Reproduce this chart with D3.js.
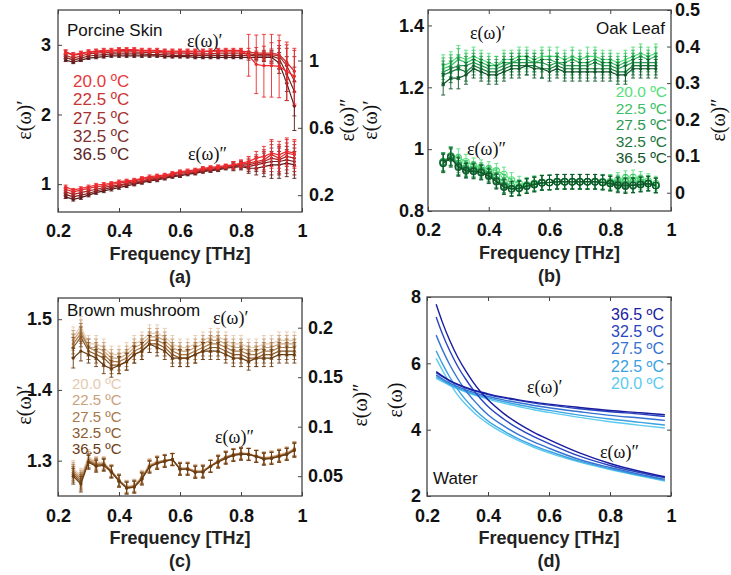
<!DOCTYPE html>
<html><head><meta charset="utf-8">
<script src="https://cdn.jsdelivr.net/npm/d3@7"></script>
<style>body{margin:0;background:#fff}svg{display:block}</style>
</head><body>
<svg id="c" width="731" height="575"></svg>
<script>
// ---------- DATA ----------
const temps = ["20.0 ºC","22.5 ºC","27.5 ºC","32.5 ºC","36.5 ºC"];
const xTicks = [0.2,0.4,0.6,0.8,1];

// (a) Porcine skin
const freqA = [0.225,0.25,0.275,0.3,0.325,0.35,0.375,0.4,0.425,0.45,0.475,0.5,0.525,0.55,0.575,0.6,0.625,0.65,0.675,0.7,0.725,0.75,0.775,0.8,0.825,0.85,0.875,0.9,0.925,0.95,0.975];
const skinReal20 = [2.90,2.86,2.88,2.90,2.91,2.92,2.92,2.93,2.93,2.93,2.92,2.92,2.92,2.91,2.91,2.91,2.91,2.91,2.91,2.91,2.92,2.92,2.92,2.92,2.85,2.72,2.70,2.70,2.69,2.62,2.55];
const skinReal22 = [2.89,2.85,2.87,2.89,2.90,2.91,2.91,2.92,2.92,2.92,2.91,2.91,2.91,2.90,2.90,2.90,2.90,2.90,2.90,2.91,2.91,2.91,2.91,2.91,2.90,2.88,2.88,2.88,2.86,2.75,2.62];
const skinReal27 = [2.85,2.81,2.84,2.87,2.88,2.89,2.89,2.90,2.90,2.90,2.89,2.89,2.89,2.88,2.88,2.88,2.88,2.87,2.87,2.87,2.88,2.88,2.88,2.88,2.87,2.86,2.86,2.86,2.84,2.70,2.48];
const skinReal32 = [2.82,2.78,2.81,2.84,2.85,2.86,2.87,2.87,2.87,2.87,2.87,2.86,2.86,2.86,2.85,2.85,2.85,2.85,2.85,2.85,2.85,2.85,2.85,2.85,2.85,2.84,2.84,2.84,2.80,2.58,2.33];
const skinReal36 = [2.78,2.75,2.78,2.81,2.82,2.83,2.84,2.84,2.84,2.84,2.84,2.84,2.84,2.83,2.83,2.83,2.83,2.82,2.82,2.82,2.82,2.82,2.82,2.82,2.82,2.82,2.82,2.82,2.74,2.45,2.12];
const skinRealErr20 = [0.03,0.03,0.03,0.03,0.03,0.03,0.03,0.03,0.03,0.03,0.03,0.03,0.03,0.03,0.03,0.03,0.03,0.03,0.03,0.03,0.03,0.03,0.03,0.03,0.30,0.42,0.45,0.45,0.45,0.42,0.40];
const skinRealErr22 = [0.03,0.03,0.03,0.03,0.03,0.03,0.03,0.03,0.03,0.03,0.03,0.03,0.03,0.03,0.03,0.03,0.03,0.03,0.03,0.03,0.03,0.03,0.03,0.03,0.05,0.08,0.10,0.15,0.20,0.25,0.30];
const skinRealErrOther = [0.02,0.02,0.02,0.02,0.02,0.02,0.02,0.02,0.02,0.02,0.02,0.02,0.02,0.02,0.02,0.02,0.02,0.02,0.02,0.02,0.02,0.02,0.02,0.02,0.04,0.05,0.06,0.08,0.15,0.25,0.35];
const skinImag20 = [0.25,0.23,0.24,0.25,0.26,0.265,0.27,0.28,0.285,0.29,0.30,0.31,0.315,0.32,0.33,0.34,0.345,0.35,0.36,0.365,0.37,0.375,0.38,0.39,0.40,0.42,0.43,0.45,0.44,0.46,0.45];
const skinImag22 = [0.235,0.22,0.23,0.24,0.25,0.255,0.265,0.27,0.28,0.285,0.295,0.30,0.31,0.315,0.325,0.335,0.34,0.345,0.355,0.36,0.365,0.37,0.38,0.385,0.39,0.40,0.41,0.44,0.42,0.45,0.44];
const skinImag27 = [0.22,0.205,0.215,0.225,0.235,0.245,0.255,0.26,0.27,0.28,0.285,0.295,0.30,0.31,0.32,0.33,0.335,0.34,0.35,0.355,0.36,0.37,0.375,0.38,0.38,0.39,0.40,0.42,0.41,0.43,0.42];
const skinImag32 = [0.205,0.19,0.20,0.21,0.225,0.235,0.245,0.255,0.265,0.27,0.28,0.29,0.295,0.305,0.315,0.32,0.33,0.335,0.345,0.35,0.355,0.365,0.37,0.375,0.37,0.38,0.39,0.40,0.40,0.41,0.40];
const skinImag36 = [0.19,0.175,0.185,0.20,0.215,0.225,0.235,0.245,0.255,0.265,0.275,0.285,0.29,0.30,0.31,0.315,0.325,0.33,0.34,0.345,0.35,0.36,0.365,0.37,0.36,0.36,0.37,0.38,0.38,0.39,0.38];
const skinImagErr = [0.01,0.01,0.01,0.01,0.01,0.01,0.01,0.01,0.01,0.01,0.01,0.01,0.01,0.01,0.01,0.01,0.01,0.01,0.01,0.01,0.01,0.01,0.02,0.02,0.03,0.04,0.06,0.08,0.08,0.08,0.08];

// (b) Oak leaf
const freqB = [0.25,0.275,0.3,0.325,0.35,0.375,0.4,0.425,0.45,0.475,0.5,0.525,0.55,0.575,0.6,0.625,0.65,0.675,0.7,0.725,0.75,0.775,0.8,0.825,0.85,0.875,0.9,0.925,0.95];
const leafReal20 = [1.27,1.28,1.30,1.29,1.30,1.29,1.28,1.27,1.29,1.29,1.30,1.30,1.29,1.30,1.30,1.30,1.29,1.30,1.29,1.30,1.30,1.29,1.29,1.28,1.29,1.30,1.31,1.30,1.31];
const leafReal22 = [1.26,1.27,1.29,1.28,1.29,1.28,1.27,1.27,1.28,1.28,1.29,1.29,1.28,1.29,1.29,1.28,1.28,1.29,1.28,1.28,1.29,1.28,1.28,1.27,1.28,1.29,1.30,1.29,1.30];
const leafReal27 = [1.25,1.26,1.27,1.27,1.28,1.27,1.26,1.26,1.27,1.28,1.28,1.28,1.28,1.28,1.27,1.28,1.27,1.27,1.27,1.27,1.28,1.27,1.27,1.26,1.27,1.28,1.28,1.28,1.28];
const leafReal32 = [1.24,1.25,1.26,1.25,1.27,1.26,1.25,1.25,1.26,1.27,1.27,1.27,1.27,1.26,1.26,1.27,1.26,1.26,1.26,1.26,1.26,1.26,1.26,1.25,1.25,1.27,1.27,1.27,1.27];
const leafReal36 = [1.21,1.23,1.23,1.24,1.26,1.25,1.24,1.24,1.25,1.26,1.26,1.27,1.26,1.26,1.25,1.26,1.25,1.25,1.25,1.25,1.25,1.25,1.25,1.24,1.24,1.26,1.26,1.26,1.26];
const leafRealErr = [0.035,0.035,0.035,0.03,0.03,0.03,0.03,0.03,0.03,0.03,0.03,0.03,0.03,0.03,0.03,0.03,0.03,0.03,0.03,0.03,0.03,0.03,0.03,0.03,0.03,0.03,0.03,0.03,0.03];
const leafImag20 = [0.085,0.10,0.095,0.085,0.075,0.07,0.065,0.06,0.05,0.035,0.025,0.022,0.026,0.028,0.028,0.03,0.03,0.03,0.03,0.03,0.03,0.03,0.03,0.035,0.04,0.042,0.038,0.032,0.025];
const leafImag22 = [0.085,0.10,0.08,0.068,0.065,0.062,0.055,0.045,0.03,0.018,0.015,0.02,0.025,0.028,0.028,0.03,0.03,0.03,0.03,0.03,0.03,0.03,0.028,0.028,0.03,0.03,0.028,0.026,0.02];
const leafImag27 = [0.084,0.10,0.075,0.064,0.062,0.058,0.05,0.035,0.02,0.012,0.013,0.019,0.024,0.027,0.028,0.03,0.03,0.03,0.03,0.03,0.03,0.028,0.026,0.024,0.022,0.021,0.024,0.025,0.02];
const leafImag32 = [0.082,0.098,0.072,0.062,0.06,0.056,0.047,0.032,0.017,0.011,0.012,0.018,0.023,0.027,0.028,0.03,0.03,0.03,0.03,0.03,0.03,0.028,0.025,0.022,0.02,0.02,0.023,0.025,0.02];
const leafImag36 = [0.08,0.095,0.07,0.06,0.058,0.055,0.045,0.03,0.015,0.01,0.012,0.018,0.022,0.027,0.028,0.03,0.03,0.03,0.03,0.03,0.03,0.028,0.025,0.02,0.018,0.02,0.022,0.025,0.02];
const leafImagErr = [0.025,0.025,0.025,0.02,0.02,0.02,0.02,0.02,0.02,0.02,0.02,0.02,0.02,0.02,0.02,0.02,0.02,0.02,0.02,0.02,0.02,0.02,0.02,0.02,0.02,0.02,0.02,0.02,0.02];

// (c) Brown mushroom
const freqC = [0.25,0.275,0.3,0.325,0.35,0.375,0.4,0.425,0.45,0.475,0.5,0.525,0.55,0.575,0.6,0.625,0.65,0.675,0.7,0.725,0.75,0.775,0.8,0.825,0.85,0.875,0.9,0.925,0.95,0.975];
const mushReal20 = [1.475,1.49,1.465,1.465,1.46,1.45,1.45,1.455,1.465,1.47,1.48,1.48,1.475,1.465,1.46,1.46,1.465,1.47,1.475,1.475,1.47,1.465,1.465,1.46,1.46,1.465,1.465,1.47,1.47,1.47];
const mushReal22 = [1.47,1.485,1.46,1.46,1.455,1.445,1.445,1.45,1.46,1.465,1.475,1.475,1.47,1.46,1.455,1.455,1.46,1.465,1.47,1.47,1.465,1.46,1.46,1.455,1.455,1.46,1.46,1.465,1.465,1.465];
const mushReal27 = [1.465,1.48,1.46,1.455,1.45,1.44,1.44,1.445,1.455,1.46,1.47,1.47,1.465,1.455,1.45,1.45,1.455,1.46,1.465,1.465,1.46,1.455,1.455,1.45,1.45,1.455,1.455,1.46,1.46,1.46];
const mushReal32 = [1.46,1.475,1.455,1.45,1.445,1.435,1.435,1.44,1.45,1.455,1.465,1.465,1.46,1.45,1.445,1.445,1.45,1.455,1.46,1.46,1.455,1.45,1.45,1.445,1.445,1.45,1.45,1.455,1.455,1.455];
const mushReal36 = [1.445,1.455,1.45,1.445,1.435,1.43,1.435,1.44,1.45,1.455,1.465,1.46,1.455,1.445,1.445,1.445,1.45,1.455,1.455,1.455,1.45,1.445,1.445,1.44,1.445,1.445,1.445,1.45,1.45,1.45];
const mushRealErr = [0.014,0.014,0.012,0.012,0.012,0.012,0.012,0.012,0.012,0.012,0.012,0.012,0.012,0.012,0.012,0.012,0.012,0.012,0.012,0.012,0.012,0.012,0.012,0.012,0.012,0.012,0.012,0.012,0.012,0.012];
const mushImag20 = [0.058,0.05,0.07,0.064,0.064,0.056,0.046,0.04,0.041,0.05,0.062,0.065,0.066,0.066,0.058,0.058,0.056,0.056,0.061,0.066,0.07,0.072,0.074,0.073,0.071,0.069,0.07,0.072,0.074,0.078];
const mushImag22 = [0.056,0.048,0.068,0.063,0.063,0.055,0.046,0.039,0.04,0.049,0.061,0.064,0.066,0.067,0.058,0.058,0.055,0.055,0.06,0.065,0.069,0.072,0.073,0.072,0.07,0.068,0.069,0.071,0.073,0.078];
const mushImag27 = [0.054,0.046,0.066,0.062,0.062,0.055,0.046,0.039,0.04,0.048,0.06,0.064,0.066,0.067,0.058,0.058,0.055,0.055,0.06,0.065,0.069,0.072,0.073,0.072,0.07,0.068,0.069,0.071,0.073,0.077];
const mushImag32 = [0.052,0.044,0.065,0.061,0.062,0.055,0.045,0.038,0.039,0.048,0.06,0.063,0.065,0.067,0.057,0.057,0.054,0.055,0.06,0.065,0.069,0.071,0.073,0.072,0.07,0.068,0.068,0.07,0.072,0.077];
const mushImag36 = [0.05,0.042,0.064,0.06,0.061,0.054,0.045,0.038,0.039,0.047,0.059,0.063,0.065,0.067,0.057,0.057,0.054,0.054,0.06,0.064,0.068,0.071,0.072,0.072,0.07,0.067,0.068,0.07,0.072,0.076];
const mushImagErr = [0.008,0.008,0.007,0.006,0.006,0.006,0.006,0.006,0.006,0.006,0.006,0.006,0.006,0.006,0.006,0.006,0.006,0.006,0.006,0.006,0.006,0.006,0.006,0.006,0.006,0.006,0.006,0.006,0.006,0.007];

// (d) Water
const freqD = [0.23,0.25,0.275,0.3,0.325,0.35,0.375,0.4,0.45,0.5,0.55,0.6,0.7,0.8,0.9,0.98];
const waterReal20 = [5.55,5.45,5.33,5.23,5.14,5.06,4.99,4.92,4.80,4.70,4.60,4.52,4.37,4.24,4.13,4.05];
const waterReal22 = [5.60,5.49,5.36,5.26,5.17,5.09,5.02,4.96,4.85,4.75,4.66,4.58,4.44,4.32,4.22,4.14];
const waterReal27 = [5.65,5.53,5.40,5.30,5.21,5.13,5.06,5.00,4.90,4.81,4.73,4.66,4.54,4.43,4.35,4.28];
const waterReal32 = [5.72,5.60,5.46,5.35,5.26,5.18,5.12,5.06,4.96,4.88,4.80,4.74,4.63,4.54,4.47,4.40];
const waterReal36 = [5.75,5.62,5.48,5.37,5.28,5.20,5.14,5.08,4.98,4.90,4.83,4.77,4.67,4.58,4.51,4.45];
const waterImag20 = [6.15,5.80,5.40,5.05,4.78,4.55,4.35,4.18,3.90,3.67,3.47,3.30,3.02,2.80,2.60,2.45];
const waterImag22 = [6.38,6.00,5.58,5.22,4.92,4.67,4.45,4.26,3.97,3.72,3.52,3.35,3.05,2.82,2.62,2.47];
const waterImag27 = [6.85,6.42,5.95,5.55,5.20,4.92,4.67,4.45,4.12,3.85,3.63,3.44,3.10,2.86,2.65,2.50];
const waterImag32 = [7.40,6.90,6.37,5.92,5.55,5.22,4.94,4.70,4.33,4.03,3.79,3.58,3.20,2.92,2.70,2.55];
const waterImag36 = [7.78,7.25,6.68,6.20,5.80,5.45,5.15,4.90,4.50,4.18,3.92,3.70,3.30,2.98,2.74,2.58];

// ---------- DRAWING ----------
const svg = d3.select("#c");
const SANS = "'Liberation Sans', Arial, Helvetica, sans-serif";
const SERIF = "'Liberation Serif', 'DejaVu Serif', serif";
const fmt = d3.format("~g");

function styleAxis(sel) {
  sel.select(".domain").remove();
  sel.selectAll("line").attr("stroke", "#444").attr("stroke-width", 1);
  sel.selectAll("text").attr("font-family", SANS).attr("font-weight", "bold")
     .attr("font-size", 18).attr("fill", "#111");
}

function makePanel(p) {
  const g = svg.append("g");
  const x = d3.scaleLinear().domain([0.2, 1]).range([p.x0, p.x1]);
  const yL = d3.scaleLinear().domain(p.yL).range([p.y1, p.y0]);
  const yR = p.yR ? d3.scaleLinear().domain(p.yR).range([p.y1, p.y0]) : null;
  g.append("g").attr("transform", `translate(0,${p.y1})`)
    .call(d3.axisBottom(x).tickValues(xTicks).tickFormat(fmt).tickSize(-4).tickPadding(p.padX)).call(styleAxis);
  g.append("g").attr("transform", `translate(0,${p.y0})`)
    .call(d3.axisTop(x).tickValues(xTicks).tickFormat("").tickSize(-4)).call(styleAxis);
  g.append("g").attr("transform", `translate(${p.x0},0)`)
    .call(d3.axisLeft(yL).tickValues(p.ticksL).tickFormat(fmt).tickSize(-4).tickPadding(p.padL)).call(styleAxis);
  if (yR) {
    g.append("g").attr("transform", `translate(${p.x1},0)`)
      .call(d3.axisRight(yR).tickValues(p.ticksR).tickFormat(fmt).tickSize(-4).tickPadding(p.padR)).call(styleAxis);
  } else {
    g.append("g").attr("transform", `translate(${p.x1},0)`)
      .call(d3.axisRight(yL).tickValues(p.ticksL).tickFormat("").tickSize(-4)).call(styleAxis);
  }
  g.append("rect").attr("x", p.x0).attr("y", p.y0).attr("width", p.x1 - p.x0).attr("height", p.y1 - p.y0)
    .attr("fill", "none").attr("stroke", "#444").attr("stroke-width", 1.3);
  const data = g.append("g");
  const cx = (p.x0 + p.x1) / 2;
  g.append("text").attr("x", cx).attr("y", p.y1 + 48).attr("text-anchor", "middle")
    .attr("font-family", SANS).attr("font-weight", "bold").attr("font-size", 18).attr("fill", "#222")
    .text("Frequency [THz]");
  g.append("text").attr("x", cx).attr("y", p.y1 + 71).attr("text-anchor", "middle")
    .attr("font-family", SANS).attr("font-weight", "bold").attr("font-size", 18).attr("fill", "#222")
    .text(p.letter);
  const rot = (tx, ty, t) => g.append("text").attr("transform", `translate(${tx},${ty}) rotate(-90)`)
    .attr("text-anchor", "middle").attr("dy", "0.35em").attr("font-family", SERIF).attr("font-size", 20)
    .attr("fill", "#111").text(t);
  rot(p.labL[0], p.labL[1], p.labL[2]);
  if (p.labR) rot(p.labR[0], p.labR[1], p.labR[2]);
  return {g, data, x, yL, yR};
}

function series(P, y, freq, vals, errs, color, opt) {
  const pts = freq.map((f, i) => ({f, v: vals[i], e: errs ? errs[i] : 0}));
  const sg = P.data.append("g");
  if (errs) {
    sg.selectAll(".eb").data(pts).join("path")
      .attr("d", d => {
        const xx = P.x(d.f), a = y(d.v - d.e), b = y(d.v + d.e), c = opt.cap || 2;
        return `M${xx},${a}V${b}M${xx - c},${a}H${xx + c}M${xx - c},${b}H${xx + c}`;
      })
      .attr("stroke", color).attr("stroke-width", 0.9).attr("fill", "none");
  }
  const line = d3.line().x(d => P.x(d.f)).y(d => y(d.v));
  if (opt.curve) line.curve(opt.curve);
  sg.append("path").datum(pts).attr("d", line).attr("fill", "none")
    .attr("stroke", color).attr("stroke-width", opt.lw || 1.2);
  if (opt.marker === "dot") {
    sg.selectAll(".m").data(pts).join("circle").attr("cx", d => P.x(d.f)).attr("cy", d => y(d.v))
      .attr("r", 1.6).attr("fill", color);
  } else if (opt.marker === "circle") {
    sg.selectAll(".m").data(pts).join("circle").attr("cx", d => P.x(d.f)).attr("cy", d => y(d.v))
      .attr("r", 3.2).attr("fill", "none").attr("stroke", color).attr("stroke-width", 1.1);
  }
}

function textAt(g, x, y, t, color, size, anchor, font) {
  g.append("text").attr("x", x).attr("y", y).attr("text-anchor", anchor || "start")
    .attr("font-family", font || SANS).attr("font-size", size).attr("fill", color).text(t);
}

const EPS1 = "ε(ω)′", EPS2 = "ε(ω)″";

// ---- (a) ----
const redCols = ["#ee2a2e", "#d22a2c", "#a82626", "#7f2020", "#581a1a"];
const redText = ["#e8383d", "#cc3333", "#a53030", "#803030", "#5c2424"];
const PA = makePanel({x0: 58, x1: 302, y0: 10, y1: 212, yL: [0.6, 3.5], ticksL: [1, 2, 3], yR: [0.1, 1.3], ticksR: [0.2, 0.6, 1],
  padX: 12, padL: 7, padR: 7, letter: "(a)", labL: [24, 120, EPS1], labR: [347, 120, EPS2]});
const aReal = [skinReal20, skinReal22, skinReal27, skinReal32, skinReal36];
const aRealErr = [skinRealErr20, skinRealErr22, skinRealErrOther, skinRealErrOther, skinRealErrOther];
const aImag = [skinImag20, skinImag22, skinImag27, skinImag32, skinImag36];
for (let i = 4; i >= 0; i--) {
  series(PA, PA.yL, freqA, aReal[i], aRealErr[i], redCols[i], {marker: "dot"});
  series(PA, PA.yR, freqA, aImag[i], skinImagErr, redCols[i], {marker: "dot"});
}
textAt(PA.g, 67, 36, "Porcine Skin", "#111", 17);
textAt(PA.g, 187, 47, EPS1, "#111", 18, "start", SERIF);
textAt(PA.g, 188, 160, EPS2, "#111", 18, "start", SERIF);
temps.forEach((t, i) => textAt(PA.g, 73, 87 + i * 18.3, t, redText[i], 17));

// ---- (b) ----
const greenCols = ["#55e07a", "#3bbf66", "#2a9a52", "#1c773d", "#12552a"];
const PB = makePanel({x0: 428, x1: 671, y0: 10, y1: 211, yL: [0.8, 1.45], ticksL: [0.8, 1, 1.2, 1.4], yR: [-0.05, 0.5], ticksR: [0, 0.1, 0.2, 0.3, 0.4, 0.5],
  padX: 12, padL: 4, padR: 4, letter: "(b)", labL: [370, 120, EPS1], labR: [718, 120, EPS2]});
const bReal = [leafReal20, leafReal22, leafReal27, leafReal32, leafReal36];
const bImag = [leafImag20, leafImag22, leafImag27, leafImag32, leafImag36];
for (let i = 0; i < 5; i++) {
  series(PB, PB.yL, freqB, bReal[i], leafRealErr, greenCols[i], {marker: "dot"});
  series(PB, PB.yR, freqB, bImag[i], leafImagErr, greenCols[i], {marker: "circle"});
}
textAt(PB.g, 665, 34, "Oak Leaf", "#111", 17, "end");
textAt(PB.g, 470, 39, EPS1, "#111", 18, "start", SERIF);
textAt(PB.g, 467, 155, EPS2, "#111", 18, "start", SERIF);
temps.forEach((t, i) => textAt(PB.g, 667, 97 + i * 16.6, t, greenCols[i], 15.5, "end"));

// ---- (c) ----
const brownCols = ["#e6cbb0", "#c9a27c", "#a87a4c", "#8a5a2c", "#6a3c12"];
const PC = makePanel({x0: 58, x1: 302, y0: 298, y1: 496, yL: [1.25, 1.53], ticksL: [1.3, 1.4, 1.5], yR: [0.03, 0.23], ticksR: [0.05, 0.1, 0.15, 0.2],
  padX: 13, padL: 6, padR: 6, letter: "(c)", labL: [24, 405, EPS1], labR: [360, 405, EPS2]});
const cReal = [mushReal20, mushReal22, mushReal27, mushReal32, mushReal36];
const cImag = [mushImag20, mushImag22, mushImag27, mushImag32, mushImag36];
for (let i = 0; i < 5; i++) {
  series(PC, PC.yL, freqC, cReal[i], mushRealErr, brownCols[i], {marker: "dot"});
  series(PC, PC.yR, freqC, cImag[i], mushImagErr, brownCols[i], {marker: "dot"});
}
textAt(PC.g, 67, 316, "Brown mushroom", "#111", 17);
textAt(PC.g, 213, 324, EPS1, "#111", 18, "start", SERIF);
textAt(PC.g, 215, 443, EPS2, "#111", 18, "start", SERIF);
temps.forEach((t, i) => textAt(PC.g, 72, 389 + i * 16.3, t, brownCols[i], 15));

// ---- (d) ----
const blueCols = ["#5ccbef", "#3aa2e2", "#3473d2", "#2945c0", "#1a1ca0"];
const PD = makePanel({x0: 427, x1: 671, y0: 297, y1: 496, yL: [2, 8], ticksL: [2, 4, 6, 8],
  padX: 13, padL: 6, letter: "(d)", labL: [395, 400, "ε(ω)"]});
const dReal = [waterReal20, waterReal22, waterReal27, waterReal32, waterReal36];
const dImag = [waterImag20, waterImag22, waterImag27, waterImag32, waterImag36];
for (let i = 0; i < 5; i++) {
  series(PD, PD.yL, freqD, dReal[i], null, blueCols[i], {curve: d3.curveMonotoneX, lw: 1.4});
  series(PD, PD.yL, freqD, dImag[i], null, blueCols[i], {curve: d3.curveMonotoneX, lw: 1.4});
}
textAt(PD.g, 433, 484, "Water", "#111", 17);
textAt(PD.g, 527, 393, EPS1, "#111", 18, "start", SERIF);
textAt(PD.g, 600, 458, EPS2, "#111", 18, "start", SERIF);
[4, 3, 2, 1, 0].forEach((k, i) => textAt(PD.g, 664, 320 + i * 17.2, temps[k], blueCols[k], 16, "end"));
</script>
</body></html>
